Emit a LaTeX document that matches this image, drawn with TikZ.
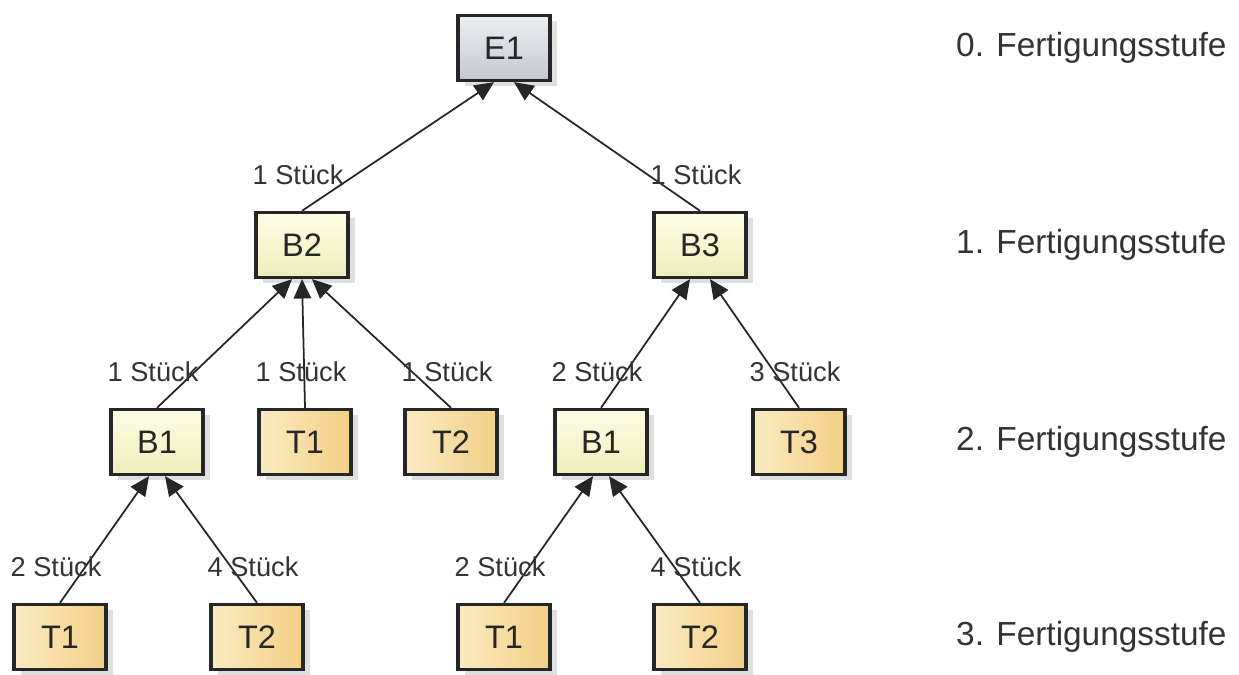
\documentclass[tikz,border=0pt]{standalone}
\usepackage{fontspec}
\setmainfont{Liberation Sans}
\usepackage{tikz}
\usetikzlibrary{calc, positioning, arrows.meta, shadows}

\definecolor{endtop}{HTML}{EDEFF2}
\definecolor{endbot}{HTML}{C3C7CF}
\definecolor{asmtop}{HTML}{FDFDE4}
\definecolor{asmbot}{HTML}{F0EEBC}
\definecolor{partleft}{HTML}{FBEAC2}
\definecolor{partright}{HTML}{F2D085}

\begin{document}
\begin{tikzpicture}[x=0.02cm, y=-0.02cm,
    part/.style={draw=black!85, line width=1.9pt, minimum width=1.84cm, minimum height=1.3cm,
        inner sep=0pt, font=\fontsize{18.5}{20}\selectfont, text=black!85,
        drop shadow={shadow xshift=4pt, shadow yshift=-3pt, opacity=0.25}},
    endprod/.style={part, top color=endtop, bottom color=endbot},
    assembly/.style={part, top color=asmtop, bottom color=asmbot},
    single/.style={part, left color=partleft, right color=partright},
    qty/.style={font=\fontsize{15.5}{17}\selectfont, text=black!80},
    level/.style={anchor=west, font=\fontsize{19}{22}\selectfont, text=black!80},
    uses/.style={-{Triangle[length=11pt, width=10pt]}, line width=1pt, black!85}]

    \useasboundingbox (0,0) rectangle (1239,675);

    % 0./1. stage
    \node[endprod] (e1) at (504,48) {E1};
    \node[assembly] (b2) at (302,245) {B2};
    \node[assembly] (b3) at (700,245) {B3};

    % 2. stage
    \node[assembly] (b1a) at (157,442) {B1};
    \node[single] (t1a) at (305,442) {T1};
    \node[single] (t2a) at (451,442) {T2};
    \node[assembly] (b1b) at (601,442) {B1};
    \node[single] (t3) at (799,442) {T3};

    % 3. stage
    \node[single] (t1b) at (60,637) {T1};
    \node[single] (t2b) at (257,637) {T2};
    \node[single] (t1c) at (504,637) {T1};
    \node[single] (t2c) at (700,637) {T2};

    \foreach \child/\parent/\dx/\n in {b2/e1/-10/1, b3/e1/10/1,
            b1a/b2/-10/1, t1a/b2/0/1, t2a/b2/10/1, b1b/b3/-10/2, t3/b3/10/3,
            t1b/b1a/-8/2, t2b/b1a/8/4, t1c/b1b/-8/2, t2c/b1b/8/4} {
        \draw[uses] (\child.north) to ($(\parent.south)+(\dx,0)$);
        \node[qty] (q-\child) at ($(\child.north)+(-4,-36)$) {\n~Stück};
    }

    \foreach \i/\y in {0/48, 1/245, 2/442, 3/637}
        \node[level] (stufe\i) at (950,\y) {\i. Fertigungsstufe};
\end{tikzpicture}
\end{document}
